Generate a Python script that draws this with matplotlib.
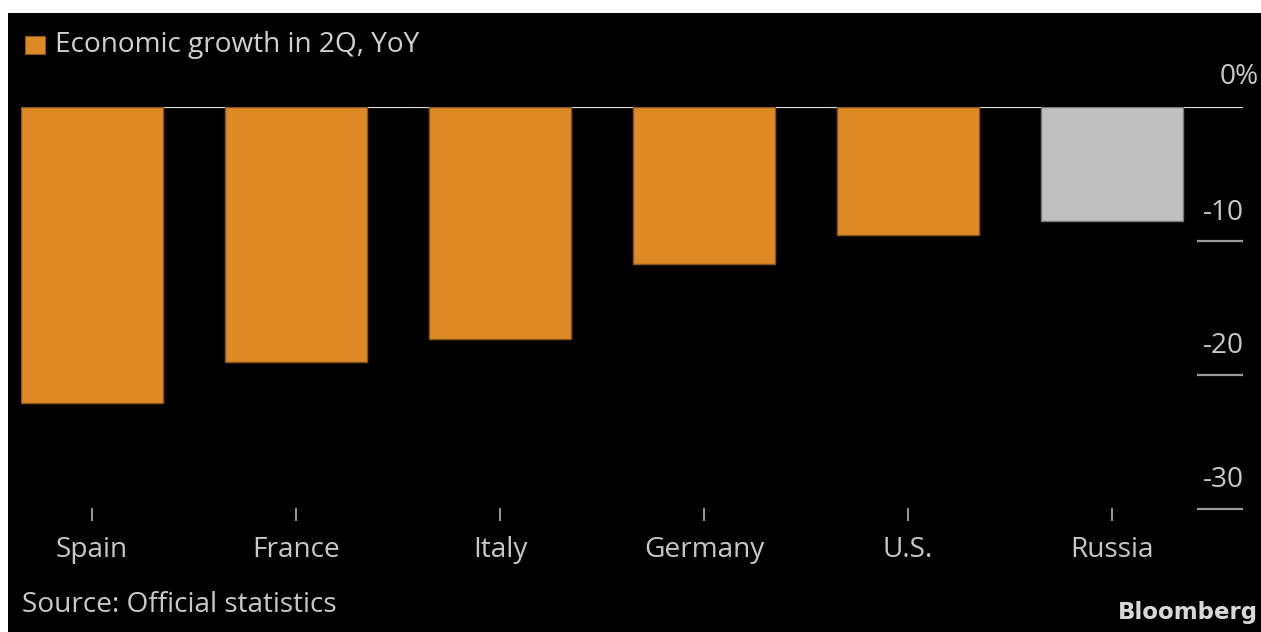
import numpy as np
import matplotlib.pyplot as plt
from matplotlib.patches import Rectangle
import matplotlib.transforms as mtransforms

# data
countries = ['Spain', 'France', 'Italy', 'Germany', 'U.S.', 'Russia']
growth = [-22.1, -19.0, -17.3, -11.7, -9.5, -8.5]
bar_colors = ['#DD8A26'] * 5 + ['#C0C0C0']
edge_colors = ['#8A5718'] * 5 + ['#7A7A7A']
yticks = [-10, -20, -30]

LEGEND_LABEL = 'Economic growth in 2Q, YoY'
SOURCE = 'Source: Official statistics'

plt.rcParams['font.family'] = ['Open Sans', 'DejaVu Sans']
TXT = '#C8C8C8'
FS = 20.2

W, H = 1261, 632
fig = plt.figure(figsize=(W / 100, H / 100), dpi=100, facecolor='white')

# black panel inside the thin white margin
fig.patches.append(Rectangle((8 / W, 0), 1 - 8 / W, 1 - 13 / H,
                             transform=fig.transFigure, facecolor='black',
                             edgecolor='none', zorder=-10))

# axes placed in pixel terms
left, right = 20.6, 1243
top, bottom = 107.5, 508
ax = fig.add_axes([left / W, 1 - bottom / H, (right - left) / W, (bottom - top) / H])
ax.set_facecolor('none')
ax.set_zorder(5)

x = np.arange(len(countries))
ax.set_xlim(-0.35, 5.642)
ax.set_ylim(-29.93, 0)

# zero line behind the bars
ax.axhline(0, color='#E0E0E0', lw=1.6, zorder=1)
ax.bar(x, growth, width=0.7, color=bar_colors, edgecolor=edge_colors,
       linewidth=1, zorder=2)

for s in ax.spines.values():
    s.set_visible(False)

# y gridline stubs on the right with labels
trans = mtransforms.blended_transform_factory(ax.transAxes, ax.transData)
x0 = (1197 - left) / (right - left)
for v in yticks:
    ax.plot([x0, 1], [v, v], transform=trans, color='#9A9A9A', lw=1.6,
            clip_on=False, solid_capstyle='butt')
    ax.text(1.001, v + 1.1, f'{v}', transform=trans, ha='right', va='bottom',
            color=TXT, fontsize=FS)
ax.text((1259 - left) / (right - left), 1.2, '0%', transform=trans,
        ha='right', va='bottom', color=TXT, fontsize=FS, clip_on=False)

ax.set_yticks([])
ax.set_xticks(x)
ax.set_xticklabels(countries, color=TXT, fontsize=FS)
ax.tick_params(axis='x', length=9.5, width=1.4, color='#9A9A9A', pad=11)

# legend
fig.patches.append(Rectangle((25 / W, 1 - 54 / H), 20 / W, 18 / H,
                             transform=fig.transFigure, facecolor='#DD8A26',
                             edgecolor='#8A5718', lw=0.8, zorder=3))
fig.text(55 / W, 1 - 45 / H, LEGEND_LABEL, color='#D0D0D0', fontsize=FS,
         va='center', ha='left')

fig.text(22 / W, 1 - 612 / H, SOURCE, color=TXT, fontsize=FS,
         va='baseline', ha='left')
fig.text(1258 / W, 1 - 619 / H, 'Bloomberg', color='#D8D8D8', fontsize=16.5,
         fontweight='bold', family='DejaVu Sans', va='baseline', ha='right')

fig.savefig('out.png', dpi=100, facecolor='white')
